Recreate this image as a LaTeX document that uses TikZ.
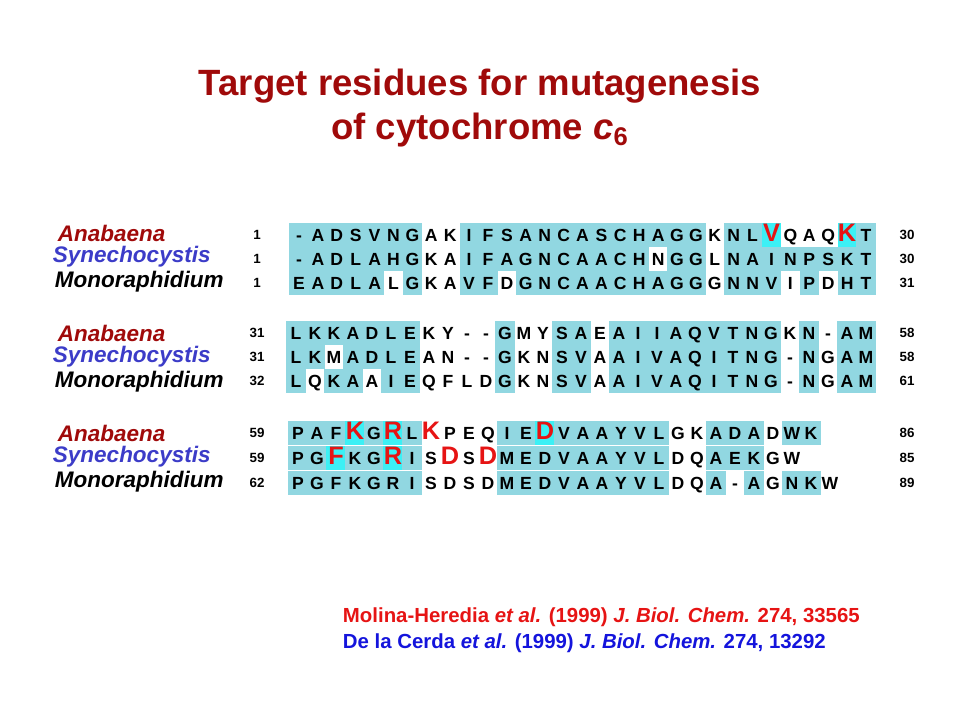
\documentclass[tikz,border=0pt]{standalone}
\usepackage{fontspec}
\setmainfont{Liberation Sans}
\usetikzlibrary{positioning}
\definecolor{shade}{RGB}{145,215,225}
\definecolor{hilite}{RGB}{60,240,245}
\definecolor{darkred}{RGB}{160,10,10}
\definecolor{synblue}{RGB}{60,60,200}
\definecolor{refred}{RGB}{230,20,20}
\definecolor{refblue}{RGB}{20,20,220}

\begin{document}
\begin{tikzpicture}[
    x=0.025cm, y=-0.025cm,
    res/.style={inner sep=0pt, minimum width=0.48cm, minimum height=0.6cm, text height=9pt, text depth=0pt, font=\fontsize{12.5}{14}\bfseries},
    m0/.style={},
    m1/.style={fill=shade},
    m2/.style={fill=hilite, text=refred, font=\fontsize{18}{18}\bfseries},
    m3/.style={text=refred, font=\fontsize{18}{18}\bfseries},
    species/.style={anchor=west, font=\fontsize{16}{18}\bfseries\itshape},
    num/.style={font=\fontsize{9.5}{11}\bfseries},
    ref/.style={anchor=west, font=\fontsize{14.5}{17}\bfseries}
]
\useasboundingbox (0,0) rectangle (960,720);

% Title
\node[font=\fontsize{26}{31}\bfseries, text=darkred, align=center] (title) at (480,108)
  {Target residues for mutagenesis\\of cytochrome \textit{c}$_{\mathbf{6}}$};

% Species labels
\foreach \y/\b in {233/a,333/b,433/c} {
  \node[species, text=darkred] (ana\b) at (53,\y) {Anabaena};
  \node[species, text=synblue] (syn\b) at (48,\y+24) {Synechocystis};
  \node[species, text=black] (mon\b) at (50,\y+49) {Monoraphidium};
}

% Block 1
\foreach \c/\m [count=\i from 0] in {-/1,A/1,D/1,S/1,V/1,N/1,G/1,A/0,K/0,I/1,F/1,S/1,A/1,N/1,C/1,A/1,S/1,C/1,H/1,A/1,G/1,G/1,K/0,N/1,L/1,V/2,Q/0,A/0,Q/0,K/2,T/1}
  \node[res, m\m] (a1\i) at (299+18.9*\i,235) {\c};
\foreach \c/\m [count=\i from 0] in {-/1,A/1,D/1,L/1,A/1,H/1,G/1,K/0,A/0,I/1,F/1,A/1,G/1,N/1,C/1,A/1,A/1,C/1,H/1,N/0,G/1,G/1,L/0,N/1,A/1,I/1,N/1,P/1,S/1,K/1,T/1}
  \node[res, m\m] (a2\i) at (299+18.9*\i,259) {\c};
\foreach \c/\m [count=\i from 0] in {E/1,A/1,D/1,L/1,A/1,L/0,G/1,K/0,A/0,V/1,F/1,D/0,G/1,N/1,C/1,A/1,A/1,C/1,H/1,A/1,G/1,G/1,G/0,N/1,N/1,V/1,I/0,P/1,D/0,H/1,T/1}
  \node[res, m\m] (a3\i) at (299+18.9*\i,283) {\c};

% Block 2
\foreach \c/\m [count=\i from 0] in {L/1,K/1,K/1,A/1,D/1,L/1,E/1,K/0,Y/0,-/0,-/0,G/1,M/0,Y/0,S/1,A/1,E/0,A/1,I/1,I/1,A/1,Q/1,V/1,T/1,N/1,G/1,K/0,N/1,-/0,A/1,M/1}
  \node[res, m\m] (b1\i) at (296+19*\i,333) {\c};
\foreach \c/\m [count=\i from 0] in {L/1,K/1,M/0,A/1,D/1,L/1,E/1,A/0,N/0,-/0,-/0,G/1,K/0,N/0,S/1,V/1,A/0,A/1,I/1,V/1,A/1,Q/1,I/1,T/1,N/1,G/1,-/0,N/1,G/0,A/1,M/1}
  \node[res, m\m] (b2\i) at (296+19*\i,357) {\c};
\foreach \c/\m [count=\i from 0] in {L/1,Q/0,K/1,A/1,A/0,I/1,E/1,Q/0,F/0,L/0,D/0,G/1,K/0,N/0,S/1,V/1,A/0,A/1,I/1,V/1,A/1,Q/1,I/1,T/1,N/1,G/1,-/0,N/1,G/0,A/1,M/1}
  \node[res, m\m] (b3\i) at (296+19*\i,381) {\c};

% Block 3
\foreach \c/\m [count=\i from 0] in {P/1,A/1,F/1,K/2,G/1,R/2,L/1,K/3,P/0,E/0,Q/0,I/1,E/1,D/2,V/1,A/1,A/1,Y/1,V/1,L/1,G/0,K/0,A/1,D/1,A/1,D/0,W/1,K/1}
  \node[res, m\m] (c1\i) at (298+19*\i,433) {\c};
\foreach \c/\m [count=\i from 0] in {P/1,G/1,F/2,K/1,G/1,R/2,I/1,S/0,D/3,S/0,D/3,M/1,E/1,D/1,V/1,A/1,A/1,Y/1,V/1,L/1,D/0,Q/0,A/1,E/1,K/1,G/0,W/0}
  \node[res, m\m] (c2\i) at (298+19*\i,458) {\c};
\foreach \c/\m [count=\i from 0] in {P/1,G/1,F/1,K/1,G/1,R/1,I/1,S/0,D/0,S/0,D/0,M/1,E/1,D/1,V/1,A/1,A/1,Y/1,V/1,L/1,D/0,Q/0,A/1,-/0,A/1,G/0,N/1,K/1,W/0}
  \node[res, m\m] (c3\i) at (298+19*\i,483) {\c};

% Residue numbers
\foreach \y/\l/\r [count=\k] in {235/1/30,259/1/30,283/1/31,333/31/58,357/31/58,381/32/61,433/59/86,458/59/85,483/62/89} {
  \node[num] (nl\k) at (257,\y) {\l};
  \node[num] (nr\k) at (907,\y) {\r};
}

% References
\node[ref, text=refred] (ref1) at (338,617) {Molina-Heredia \textit{et al.} (1999) \textit{J. Biol. Chem.} 274, 33565};
\node[ref, text=refblue] (ref2) at (338,643) {De la Cerda \textit{et al.} (1999) \textit{J. Biol. Chem.} 274, 13292};

\end{tikzpicture}
\end{document}
